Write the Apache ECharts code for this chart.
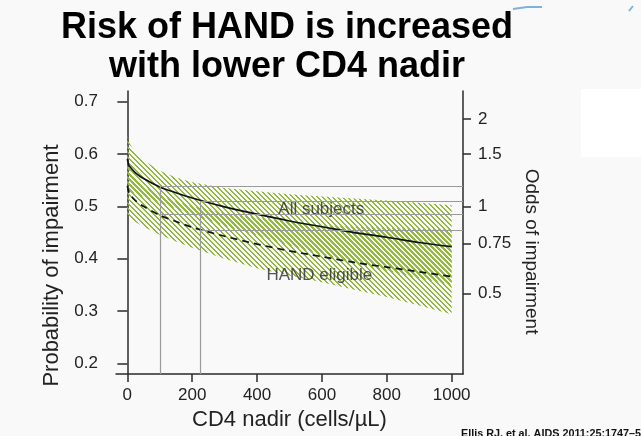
<!DOCTYPE html>
<html>
<head>
<meta charset="utf-8">
<script src="https://cdn.jsdelivr.net/npm/echarts@6/dist/echarts.min.js"></script>
<style>
html,body{margin:0;padding:0;background:#f9f9f9;}
#chart{width:641px;height:436px;}
</style>
</head>
<body>
<div id="chart"></div>
<script>
// ---- data ----
const cd4       = [0,     5,     10,    25,    50,    100,   150,   200,   300,   400,   500,   600,   700,   800,   900,   1000];
const allMean   = [0.590, 0.578, 0.574, 0.564, 0.553, 0.537, 0.526, 0.516, 0.499, 0.485, 0.472, 0.461, 0.450, 0.441, 0.431, 0.423];
const allUpper  = [0.634, 0.624, 0.617, 0.603, 0.588, 0.568, 0.555, 0.546, 0.535, 0.529, 0.523, 0.519, 0.515, 0.511, 0.507, 0.502];
const allLower  = [0.535, 0.532, 0.529, 0.524, 0.518, 0.507, 0.496, 0.485, 0.463, 0.445, 0.426, 0.408, 0.393, 0.377, 0.363, 0.350];
const handMean  = [0.539, 0.527, 0.521, 0.511, 0.500, 0.483, 0.471, 0.460, 0.443, 0.428, 0.415, 0.404, 0.393, 0.384, 0.375, 0.366];
const handUpper = [0.580, 0.572, 0.565, 0.552, 0.538, 0.521, 0.509, 0.500, 0.487, 0.478, 0.470, 0.464, 0.461, 0.459, 0.457, 0.456];
const handLower = [0.484, 0.481, 0.478, 0.470, 0.461, 0.446, 0.433, 0.421, 0.400, 0.382, 0.368, 0.355, 0.341, 0.327, 0.311, 0.294];

const refX      = [100, 225];
const refAll    = [0.538, 0.510];
const refHand   = [0.484, 0.455];

const xTicks    = [0, 200, 400, 600, 800, 1000];
const yTicks    = [0.2, 0.3, 0.4, 0.5, 0.6, 0.7];
const oddsTicks = [0.5, 0.75, 1, 1.5, 2];

const bandNames = ['All subjects', 'HAND eligible'];
const bandLabelX = [598, 592];
const bandLabelY = [0.494, 0.369];

// ---- helpers ----
const X_MIN = -35, X_MAX = 1035, Y_MIN = 0.18, Y_MAX = 0.72;
const oddsPos = oddsTicks.map(o => o / (1 + o));
const pairs = arr => arr.map((v, i) => [cd4[i], v]);

function hatch(color, offset) {
  const N = 5;
  const c = document.createElement('canvas');
  c.width = N; c.height = N;
  const ctx = c.getContext('2d');
  ctx.fillStyle = color;
  for (let y = 0; y < N; y++) {
    for (let x = 0; x < N; x++) {
      const k = (((x - y + offset) % N) + N) % N;
      if (k < 2) ctx.fillRect(x, y, 1, 1);
    }
  }
  return c;
}
const GREEN = '#93b940';
const FONT = '"Liberation Sans", Arial, sans-serif';

function bandSeries(name, upper, lower, offset) {
  const pattern = { image: hatch(GREEN, offset), repeat: 'repeat' };
  return {
    name: name, type: 'custom', silent: true, z: 1,
    data: cd4.map((x, i) => [x, upper[i], lower[i]]),
    encode: { x: 0, y: [1, 2] },
    renderItem: function (params, api) {
      if (params.dataIndex !== 0) return null;
      const top = cd4.map((x, i) => api.coord([x, upper[i]]));
      const bot = cd4.map((x, i) => api.coord([x, lower[i]])).reverse();
      return { type: 'polygon', shape: { points: top.concat(bot) }, style: { fill: pattern, stroke: null } };
    }
  };
}

const refLineData = [];
refX.forEach((x, i) => {
  refLineData.push([{ coord: [x, Y_MIN] }, { coord: [x, refAll[i]] }]);
  refLineData.push([{ coord: [x, refAll[i]] }, { coord: [X_MAX, refAll[i]] }]);
  refLineData.push([{ coord: [x, refHand[i]] }, { coord: [X_MAX, refHand[i]] }]);
});

const chart = echarts.init(document.getElementById('chart'), null, { renderer: 'canvas' });
const axisLineStyle = { color: '#2a2a2a', width: 1.5 };

chart.setOption({
  backgroundColor: '#f9f9f9',
  animation: false,
  textStyle: { fontFamily: FONT },
  grid: { left: 116, right: 178, top: 91, bottom: 47, containLabel: false },
  xAxis: {
    type: 'value', min: X_MIN, max: X_MAX,
    name: 'CD4 nadir (cells/µL)', nameLocation: 'middle', nameGap: 32,
    nameTextStyle: { fontSize: 22, color: '#222', fontFamily: FONT },
    axisLine: { show: true, lineStyle: axisLineStyle },
    axisTick: { show: true, length: 8, customValues: xTicks, lineStyle: axisLineStyle },
    axisLabel: { customValues: xTicks, fontSize: 17, color: '#222', margin: 13, fontFamily: FONT,
                 formatter: v => String(Math.round(v)) },
    splitLine: { show: false }
  },
  yAxis: [
    {
      type: 'value', min: Y_MIN, max: Y_MAX, position: 'left',
      name: 'Probability of impairment', nameLocation: 'middle', nameGap: 53,
      nameTextStyle: { fontSize: 22, color: '#222', fontFamily: FONT, padding: [0, 66, 0, 0] },
      axisLine: { show: true, lineStyle: axisLineStyle },
      axisTick: { show: true, length: 10, customValues: yTicks, lineStyle: axisLineStyle },
      axisLabel: { customValues: yTicks, fontSize: 17, color: '#222', margin: 18, fontFamily: FONT,
                   formatter: v => Number(v).toFixed(1) },
      splitLine: { show: false }
    },
    {
      type: 'value', min: Y_MIN, max: Y_MAX, position: 'right',
      name: 'Odds of impairment', nameLocation: 'middle', nameGap: 57, nameRotate: -90,
      nameTextStyle: { fontSize: 19, color: '#222', fontFamily: FONT, padding: [0, 0, 0, 38] },
      axisLine: { show: true, lineStyle: axisLineStyle },
      axisTick: { show: true, length: 8, customValues: oddsPos, lineStyle: axisLineStyle },
      axisLabel: { customValues: oddsPos, fontSize: 17, color: '#222', margin: 15, fontFamily: FONT,
                   formatter: v => {
                     let best = 0;
                     oddsPos.forEach((p, i) => { if (Math.abs(p - v) < Math.abs(oddsPos[best] - v)) best = i; });
                     return String(oddsTicks[best]);
                   } },
      splitLine: { show: false }
    }
  ],
  series: [
    bandSeries('All subjects CI', allUpper, allLower, 0),
    bandSeries('HAND eligible CI', handUpper, handLower, 1),
    { name: 'ref', type: 'line', data: [], symbol: 'none', silent: true, z: 2,
      markLine: { silent: true, symbol: ['none', 'none'], animation: false,
        label: { show: false },
        lineStyle: { color: '#9a9a9a', width: 1.2, type: 'solid' },
        data: refLineData } },
    { name: 'All subjects', type: 'line', data: pairs(allMean), symbol: 'none', smooth: 0.3,
      lineStyle: { color: '#111', width: 1.7 }, z: 3 },
    { name: 'HAND eligible', type: 'line', data: pairs(handMean), symbol: 'none', smooth: 0.3,
      lineStyle: { color: '#111', width: 1.7, type: [7, 5] }, z: 3 },
    { name: 'labels', type: 'scatter', symbolSize: 0, silent: true, z: 4,
      data: bandNames.map((n, i) => ({ name: n, value: [bandLabelX[i], bandLabelY[i]] })),
      label: { show: true, position: 'inside', formatter: '{b}', fontSize: 17, color: '#2a2a2a', fontFamily: FONT } }
  ],
  graphic: [
    { type: 'text', x: 287, y: 9, z: 10,
      style: { text: 'Risk of HAND is increased\nwith lower CD4 nadir', fontSize: 36, fontWeight: 'bold',
               fontFamily: FONT, fill: '#000', align: 'center', verticalAlign: 'top', lineHeight: 39 } },
    { type: 'text', x: 461, y: 434, z: 10,
      style: { text: 'Ellis RJ, et al. AIDS 2011;25:1747–5', fontSize: 10.8, fontWeight: 'bold',
               fontFamily: FONT, fill: '#111', align: 'left', verticalAlign: 'middle' } },
    { type: 'rect', shape: { x: 581, y: 89, width: 60, height: 68 }, style: { fill: '#ffffff' }, z: 0 },
    { type: 'polyline', shape: { points: [[513, 9], [527, 7], [542, 7]] }, style: { stroke: '#7fb0de', lineWidth: 2, fill: null }, z: 0 },
    { type: 'polyline', shape: { points: [[629, 11], [633, 6]] }, style: { stroke: '#7fb0de', lineWidth: 2, fill: null }, z: 0 }
  ]
});
</script>
</body>
</html>
